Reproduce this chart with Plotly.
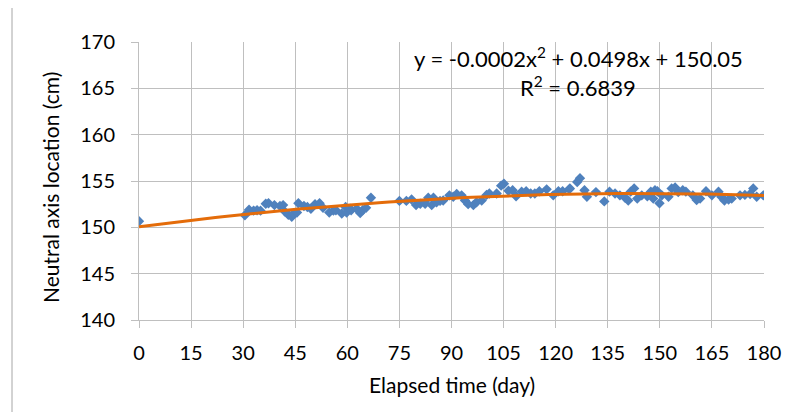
import plotly.graph_objects as go

days = [0, 30.5, 31.7, 33, 34, 35, 36.5, 37.3, 39, 40.6, 41.5, 42, 43, 44, 44.5, 45.5, 45.9,
        47.5, 48.5, 49.5, 50.7, 52, 53, 54.8, 56, 56.7, 58.4, 59.5, 59.8, 60.8, 61.1, 62.7, 63.7,
        64.4, 65.4, 66.8, 75, 77, 78.5, 79.8, 81, 82.4, 83.3, 84.3, 84.8, 85.7, 86.7, 87.6,
        89.4, 90.5, 91.5, 92.9, 93.9, 94.8, 96.3, 97.2, 98.7, 100.1, 100.9, 103, 104.3, 105.1,
        106.4, 107.6, 108.6, 110.2, 111.5, 112.8, 114, 115.3, 117.4, 119.3, 120.8, 122, 123.9,
        124.1, 126.2, 127, 128.3, 129, 131.6, 134, 135.5, 137.1, 138.5, 140, 140.9, 141.6, 142.6,
        143.5, 144.8, 146.4, 147.4, 148.1, 148.6, 149.3, 149.9, 150.6, 152.5, 153.4, 154.4, 155.3,
        156.6, 157.5, 159.5, 160.6, 161.6, 163.3, 165, 166.9, 167.7, 168.6, 169.8, 170.7, 173.1,
        174.5, 176, 176.9, 177.9, 179.8]
values = [150.65, 151.3, 151.9, 151.8, 151.85, 151.8, 152.55, 152.6, 152.4, 152.3, 152.4, 151.7,
          151.35, 151.15, 151.5, 151.6, 152.6, 152.3, 152.2, 152.0, 152.5, 152.6, 152.1, 151.6,
          151.8, 151.85, 151.5, 152.2, 151.6, 152.0, 151.85, 152.0, 151.55, 151.85, 152.1, 153.2,
          152.85, 152.85, 153.0, 152.4, 152.55, 152.55, 153.2, 152.4, 153.2, 152.7, 152.85, 152.9,
          153.45, 153.3, 153.6, 153.45, 152.9, 152.5, 152.4, 152.7, 152.9, 153.5, 153.65, 153.65,
          154.5, 154.7, 153.95, 154.0, 153.35, 153.85, 153.9, 153.65, 153.65, 153.9, 154.1, 153.45,
          153.9, 153.9, 154.1, 154.2, 154.9, 155.3, 154.0, 153.3, 153.8, 152.8, 153.85, 153.65,
          153.45, 153.2, 152.9, 153.85, 154.2, 153.1, 153.45, 153.35, 153.85, 153.1, 154.0, 153.9,
          152.6, 153.45, 153.3, 154.2, 154.3, 153.8, 154.0, 153.85, 153.45, 152.95, 153.1, 153.9,
          153.45, 153.85, 153.3, 152.9, 153.0, 153.1, 153.45, 153.5, 153.6, 154.2, 153.3, 153.45]

# Polynomial trendline coefficients (as displayed, quadratic term unrounded)
coef_a, coef_b, coef_c = -0.000172, 0.0498, 150.05
trend_x = list(range(0, 181, 2))
trend_y = [coef_a * x * x + coef_b * x + coef_c for x in trend_x]

x_ticks = list(range(0, 181, 15))
y_ticks = list(range(140, 171, 5))

FONT = "Lato"
OFF = 8                      # page body margin of the html page
W, H = 790 - OFF, 412 - OFF
L, R, T, B = 139 - OFF, 26, 42 - OFF, 92
PW, PH = W - L - R, H - T - B


def px(page_x):
    return (page_x - OFF - L) / PW


def py(page_y):
    return (H - B - (page_y - OFF)) / PH


fig = go.Figure()
fig.add_trace(go.Scatter(x=days, y=values, mode="markers",
                         marker=dict(symbol="diamond", size=8, color="#4F81BD"),
                         showlegend=False))
fig.add_trace(go.Scatter(x=trend_x, y=trend_y, mode="lines",
                         line=dict(color="#E46C0A", width=3), showlegend=False))

fig.update_layout(
    width=W, height=H,
    margin=dict(l=L, r=R, t=T, b=B, autoexpand=False),
    paper_bgcolor="white", plot_bgcolor="white",
    font=dict(family=FONT, size=20, color="#000000"),
    xaxis=dict(range=[0, 180], tickvals=x_ticks, showgrid=True, gridcolor="#BFBFBF",
               gridwidth=1, zeroline=False, showline=True, linecolor="#BFBFBF",
               ticks="outside", ticklen=7, tickcolor="#BFBFBF", automargin=False,
               tickfont=dict(size=20), ticklabelstandoff=8),
    yaxis=dict(range=[140, 170], tickvals=y_ticks, showgrid=True, gridcolor="#BFBFBF",
               gridwidth=1, zeroline=False, showline=True, linecolor="#BFBFBF",
               ticks="outside", ticklen=7, tickcolor="#BFBFBF", automargin=False,
               tickfont=dict(size=20), ticklabelstandoff=12),
    annotations=[
        dict(x=px(578), y=py(57), xref="paper", yref="paper", showarrow=False,
             xanchor="center", yanchor="middle",
             text="y = -0.0002x<sup>2</sup> + 0.0498x + 150.05", font=dict(size=22)),
        dict(x=px(578), y=py(86), xref="paper", yref="paper", showarrow=False,
             xanchor="center", yanchor="middle",
             text="R<sup>2</sup> = 0.6839", font=dict(size=22)),
        dict(x=px(452), y=py(385), xref="paper", yref="paper", showarrow=False,
             xanchor="center", yanchor="middle",
             text="Elapsed time (day)", font=dict(size=21)),
        dict(x=px(50), y=py(188), xref="paper", yref="paper", showarrow=False,
             xanchor="center", yanchor="middle",
             text="Neutral axis location (cm)", textangle=-90, font=dict(size=21)),
    ],
    shapes=[dict(type="line", xref="paper", yref="paper",
                 x0=px(12), x1=px(12), y0=py(412), y1=py(0),
                 line=dict(color="#A6A6A6", width=1), layer="below")],
)

fig.write_html("out.html")
